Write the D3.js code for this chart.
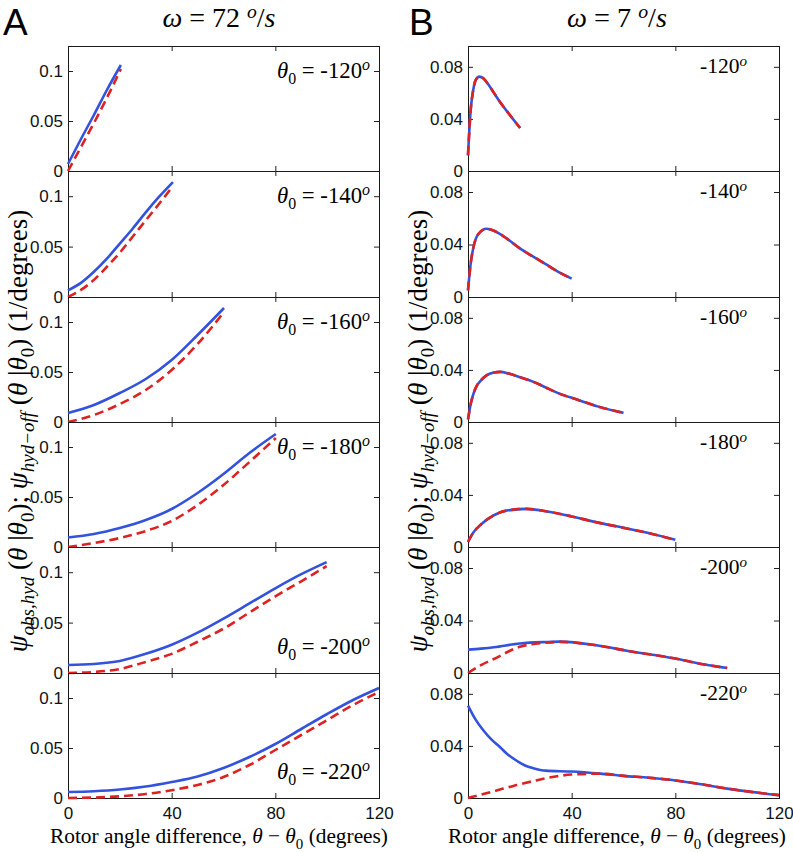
<!DOCTYPE html>
<html><head><meta charset="utf-8">
<script src="https://cdn.jsdelivr.net/npm/d3@7"></script>
<style>body{margin:0;background:#fff} svg{display:block}</style>
</head><body><svg id="c" width="793" height="852"></svg>
<script>
// ---------------- DATA ----------------
const xTicks = [0, 40, 80, 120];
const yTicksA = [0, 0.05, 0.1];
const yTicksB = [0, 0.04, 0.08];
const theta0 = ["-120", "-140", "-160", "-180", "-200", "-220"];

// Column A: omega = 72 deg/s
const xA1 = [0, 5, 10, 15, 20.4];
const blueA1 = [0.007, 0.032, 0.056, 0.081, 0.106];
const redA1 = [0, 0.024, 0.048, 0.073, 0.102];

const xA2 = [0, 5, 10, 15, 20, 25, 30, 35, 40.5];
const blueA2 = [0.0066, 0.014, 0.025, 0.038, 0.053, 0.068, 0.084, 0.099, 0.114];
const redA2 = [0, 0.007, 0.017, 0.030, 0.044, 0.060, 0.076, 0.092, 0.110];

const xA3 = [0, 10, 20, 30, 40, 50, 60.2];
const blueA3 = [0.009, 0.017, 0.029, 0.043, 0.062, 0.087, 0.114];
const redA3 = [0, 0.007, 0.018, 0.032, 0.052, 0.078, 0.110];

const xA4 = [0, 10, 20, 30, 40, 50, 60, 70, 80.2];
const blueA4 = [0.0095, 0.013, 0.019, 0.027, 0.038, 0.054, 0.073, 0.094, 0.113];
const redA4 = [0, 0.004, 0.009, 0.016, 0.026, 0.042, 0.062, 0.085, 0.109];

const xA5 = [0, 10, 20, 30, 40, 50, 60, 70, 80, 90, 99.8];
const blueA5 = [0.008, 0.009, 0.012, 0.019, 0.028, 0.040, 0.054, 0.069, 0.084, 0.098, 0.110];
const redA5 = [0, 0.001, 0.004, 0.011, 0.019, 0.031, 0.044, 0.060, 0.076, 0.091, 0.106];

const xA6 = [0, 10, 20, 30, 40, 50, 60, 70, 80, 90, 100, 110, 120];
const blueA6 = [0.006, 0.0068, 0.0085, 0.0115, 0.016, 0.0215, 0.030, 0.041, 0.054, 0.069, 0.084, 0.098, 0.110];
const redA6 = [0, 0.0005, 0.0017, 0.004, 0.0078, 0.013, 0.021, 0.033, 0.048, 0.063, 0.078, 0.093, 0.106];

// Column B: omega = 7 deg/s
const xB1 = [0, 1, 2, 3, 4.4, 6, 8, 10, 12, 15, 20.1];
const blueB1 = [0.012, 0.046, 0.062, 0.070, 0.0725, 0.071, 0.066, 0.060, 0.054, 0.046, 0.033];
const redB1 = [0.012, 0.046, 0.062, 0.070, 0.0725, 0.071, 0.066, 0.060, 0.054, 0.046, 0.033];

const xB2 = [0, 1, 2, 4, 7.2, 10, 15, 20, 25, 30, 35, 40];
const blueB2 = [0.005, 0.025, 0.037, 0.048, 0.052, 0.0505, 0.0445, 0.037, 0.031, 0.025, 0.019, 0.014];
const redB2 = [0.005, 0.025, 0.037, 0.048, 0.052, 0.0505, 0.0445, 0.037, 0.031, 0.025, 0.019, 0.014];

const xB3 = [0, 1, 2, 3.3, 5, 7, 10, 12.4, 16, 20, 25, 29, 35, 42, 50, 60];
const blueB3 = [0.002, 0.0135, 0.021, 0.0275, 0.032, 0.0356, 0.038, 0.0385, 0.037, 0.0345, 0.031, 0.0275, 0.022, 0.0173, 0.012, 0.007];
const redB3 = [0.002, 0.0135, 0.021, 0.0275, 0.032, 0.0356, 0.038, 0.0385, 0.037, 0.0345, 0.031, 0.0275, 0.022, 0.0173, 0.012, 0.007];

const xB4 = [0, 2, 4.6, 9.8, 15, 22.6, 30, 40, 48.4, 61.3, 70, 80];
const blueB4 = [0.004, 0.011, 0.0166, 0.0242, 0.028, 0.0293, 0.0275, 0.0235, 0.0195, 0.0142, 0.0105, 0.0055];
const redB4 = [0.004, 0.011, 0.0166, 0.0242, 0.028, 0.0293, 0.0275, 0.0235, 0.0195, 0.0142, 0.0105, 0.0055];

const xB5 = [0, 5, 10, 20, 30, 35.5, 50, 61.3, 80, 90, 100];
const blueB5 = [0.0178, 0.0186, 0.0196, 0.0225, 0.0236, 0.0239, 0.021, 0.017, 0.011, 0.0069, 0.0038];
const redB5 = [0, 0.006, 0.0107, 0.020, 0.0230, 0.0237, 0.021, 0.017, 0.011, 0.0069, 0.0038];

const xB6 = [0, 3, 5.9, 9, 12.4, 15, 18.8, 22, 25.2, 30, 40, 51, 60, 70, 80, 90, 100, 110, 120];
const blueB6 = [0.071, 0.060, 0.052, 0.045, 0.039, 0.034, 0.0286, 0.025, 0.0229, 0.021, 0.0203, 0.0187, 0.017, 0.0155, 0.0135, 0.0105, 0.0072, 0.0045, 0.0022];
const redB6 = [0, 0.0016, 0.003, 0.0047, 0.0065, 0.008, 0.0099, 0.0115, 0.013, 0.0152, 0.018, 0.0187, 0.017, 0.0155, 0.0135, 0.0105, 0.0072, 0.0045, 0.0022];

// ---------------- DRAW ----------------
const svg = d3.select("#c");
const BLUE = "#3352dd", RED = "#dd2222";
const SERIF = '"Liberation Serif", "Times New Roman", serif';
const SANS = '"Liberation Sans", Arial, sans-serif';
const TOP = 46, BOTTOM = 798;
const nb = s => s.replace(/ /g, "\u00A0");

function rich(text, segs, size) {
  text.selectAll("tspan").remove();
  let shift = 0;
  segs.forEach(s => {
    const ts = text.append("tspan").text(nb(s.t)).style("font-family", SERIF);
    ts.style("font-style", s.it ? "italic" : "normal");
    const target = s.sub ? 0.26 : s.sup ? -0.33 : 0;
    ts.style("font-size", (((s.sub || s.sup) ? 0.7 : 1) * size) + "px");
    const dy = (target - shift) * size;
    if (dy !== 0) ts.attr("dy", dy);
    shift = target;
  });
}
function richText(parent, segs, opts) {
  const t = parent.append("text")
    .style("font-family", SERIF)
    .attr("x", opts.x).attr("y", opts.y)
    .attr("text-anchor", opts.anchor || "start")
    .attr("fill", "#000");
  if (opts.rotate) t.attr("transform", `rotate(${opts.rotate},${opts.x},${opts.y})`);
  rich(t, segs, opts.size);
  if (opts.width) {
    const len = t.node().getComputedTextLength();
    rich(t, segs, opts.size * opts.width / len);
  }
  return t;
}

const colA = { x0: 68, x1: 379, yMax: 0.125, yTicks: yTicksA,
  data: [[xA1, blueA1, redA1], [xA2, blueA2, redA2], [xA3, blueA3, redA3],
         [xA4, blueA4, redA4], [xA5, blueA5, redA5], [xA6, blueA6, redA6]] };
const colB = { x0: 468, x1: 779, yMax: 0.096, yTicks: yTicksB,
  data: [[xB1, blueB1, redB1], [xB2, blueB2, redB2], [xB3, blueB3, redB3],
         [xB4, blueB4, redB4], [xB5, blueB5, redB5], [xB6, blueB6, redB6]] };

function drawColumn(col, isA) {
  const x = d3.scaleLinear().domain([0, 120]).range([col.x0, col.x1]);
  const g = svg.append("g");
  col.data.forEach((d, i) => {
    const y0 = Math.round(TOP + i * (BOTTOM - TOP) / 6);
    const y1 = Math.round(TOP + (i + 1) * (BOTTOM - TOP) / 6);
    const y = d3.scaleLinear().domain([0, col.yMax]).range([y1, y0]);
    const p = g.append("g");
    const fmt = v => v === 0 ? "0" : String(v);
    const ab = p.append("g").attr("transform", `translate(0,${y1})`)
      .call(d3.axisBottom(x).tickValues(xTicks).tickSize(-5).tickPadding(9)
        .tickFormat(i === 5 ? d3.format("d") : () => ""));
    const at = p.append("g").attr("transform", `translate(0,${y0})`)
      .call(d3.axisTop(x).tickValues(xTicks).tickSize(-5).tickFormat(() => ""));
    const al = p.append("g").attr("transform", `translate(${col.x0},0)`)
      .call(d3.axisLeft(y).tickValues(col.yTicks).tickSize(-5).tickPadding(5).tickFormat(fmt));
    const ar = p.append("g").attr("transform", `translate(${col.x1},0)`)
      .call(d3.axisRight(y).tickValues(col.yTicks).tickSize(-5).tickFormat(() => ""));
    [ab, at, al, ar].forEach(a => {
      a.select(".domain").remove();
      a.attr("font-family", null).attr("font-size", null).attr("color", "#111");
      a.selectAll("text").style("font-family", SANS).style("font-size", "17px");
      a.selectAll("line").attr("stroke", "#222");
    });
    p.append("rect").attr("x", col.x0).attr("y", y0)
      .attr("width", col.x1 - col.x0).attr("height", y1 - y0)
      .attr("fill", "none").attr("stroke", "#1a1a1a").attr("stroke-width", 1)
      .attr("shape-rendering", "crispEdges");
    const pts = (xs, ys) => xs.map((v, k) => [v, ys[k]]);
    const line = d3.line().x(q => x(q[0])).y(q => y(q[1])).curve(d3.curveMonotoneX);
    p.append("path").attr("d", line(pts(d[0], d[1])))
      .attr("fill", "none").attr("stroke", BLUE).attr("stroke-width", 2.6);
    p.append("path").attr("d", line(pts(d[0], d[2])))
      .attr("fill", "none").attr("stroke", RED).attr("stroke-width", 2.6)
      .attr("stroke-dasharray", "9,5");
    if (isA) {
      const by = i >= 4 ? y1 - 19 : y0 + 32;
      richText(p, [{ t: "θ", it: true }, { t: "0", sub: true }, { t: " = " + theta0[i] }, { t: "o", sup: true, it: true }],
        { x: col.x1 - 9, y: by, anchor: "end", size: 20, width: 93 });
    } else {
      richText(p, [{ t: theta0[i] }, { t: "o", sup: true, it: true }],
        { x: 747, y: y0 + 27, anchor: "end", size: 20, width: 47 });
    }
  });
  const cx = isA ? 219 : 617;
  richText(svg, [{ t: "ω", it: true }, { t: isA ? " = 72 " : " = 7 " }, { t: "o", sup: true, it: true }, { t: "/" }, { t: "s", it: true }],
    { x: cx, y: 27, anchor: "middle", size: 20, width: isA ? 113 : 100 });
  richText(svg, [{ t: "Rotor angle difference, " }, { t: "θ", it: true }, { t: " − " }, { t: "θ", it: true }, { t: "0", sub: true }, { t: " (degrees)" }],
    { x: cx, y: 843, anchor: "middle", size: 19, width: 338 });
  const lx = isA ? 27 : 427;
  richText(svg, [{ t: "ψ", it: true }, { t: "obs,hyd", sub: true, it: true }, { t: " (" }, { t: "θ", it: true }, { t: " |" },
    { t: "θ", it: true }, { t: "0", sub: true }, { t: "); " }, { t: "ψ", it: true }, { t: "hyd−off", sub: true, it: true },
    { t: " (" }, { t: "θ", it: true }, { t: " |" }, { t: "θ", it: true }, { t: "0", sub: true }, { t: ") (1/degrees)" }],
    { x: lx, y: 431, anchor: "middle", size: 20, width: 443, rotate: -90 });
  svg.append("text").style("font-family", SANS).style("font-size", "37px")
    .attr("x", isA ? 3 : 409).attr("y", 35).attr("fill", "#000")
    .text(isA ? "A" : "B");
}
drawColumn(colA, true);
drawColumn(colB, false);
</script>
</body></html>
